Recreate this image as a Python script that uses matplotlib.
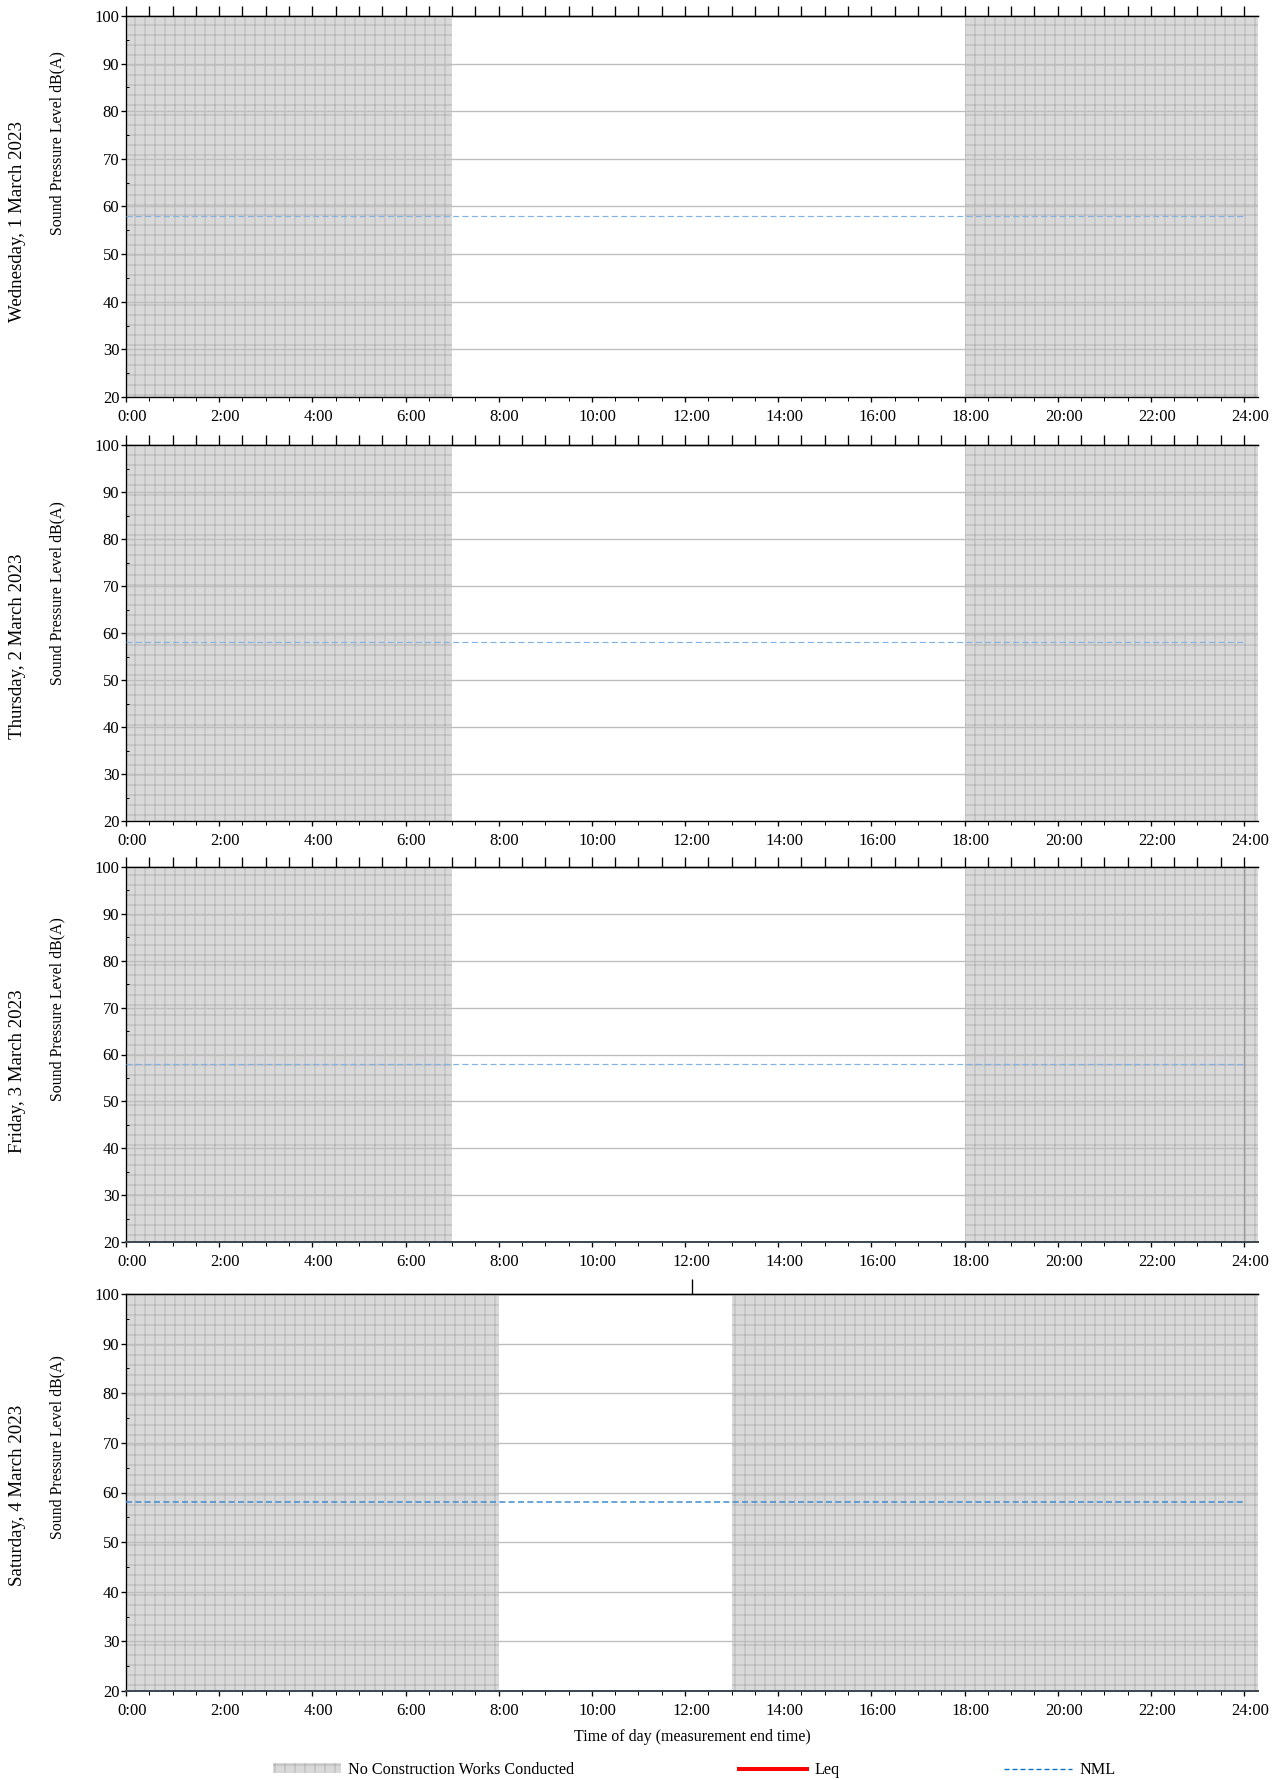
import matplotlib
matplotlib.use("Agg")
import matplotlib.pyplot as plt
from matplotlib.ticker import MultipleLocator, FuncFormatter, FixedLocator
from matplotlib.patches import Patch
from matplotlib.lines import Line2D
from matplotlib.transforms import ScaledTranslation

# ---------------- data ----------------
day_labels = ["Wednesday, 1 March 2023", "Thursday, 2 March 2023",
              "Friday, 3 March 2023", "Saturday, 4 March 2023"]
nml_values = [58, 58, 58, 58]
nml_colors = ["#7fb2e5", "#7fb2e5", "#7fb2e5", "#3a8ad0"]
# periods with no construction works (hours); end "None" = to end of axis
no_works_starts = [[0, 18], [0, 18], [0, 18], [0, 13]]
no_works_ends = [[7, None], [7, None], [7, None], [8, None]]
leq_times = []   # no Leq data shown
leq_values = []
day_end_marker = [None, None, 24, None]
top_tick_hours = [[h * 0.5 for h in range(49)]] * 3 + [[12.15]]

x_min, x_max = 0, 24.3
y_min, y_max = 20, 100

# ---------------- style ----------------
plt.rcParams['font.family'] = ['Liberation Serif', 'DejaVu Serif']
plt.rcParams['hatch.linewidth'] = 0.5
plt.rcParams['lines.scale_dashes'] = False

W, H, DPI = 1282, 1780, 120
fig = plt.figure(figsize=(W / DPI, H / DPI), dpi=DPI)

# axes boxes in pixels (top, bottom)
boxes = [(16, 397), (445, 821), (867, 1242), (1294, 1691)]
left_px, right_px = 126, 1258
ylabel_centers = [143, 593, 1009, 1447]
day_centers = [221, 646, 1071, 1495]

shade_face = "#d9d9d9"
shade_hatch = "#b0b0b0"
label_shift = ScaledTranslation(6 / DPI, 0, fig.dpi_scale_trans)

for i, (top, bot) in enumerate(boxes):
    ax = fig.add_axes([left_px / W, 1 - bot / H, (right_px - left_px) / W, (bot - top) / H])
    ax.set_xlim(x_min, x_max)
    ax.set_ylim(y_min, y_max)

    for s, e in zip(no_works_starts[i], no_works_ends[i]):
        ax.axvspan(s, x_max if e is None else e, facecolor=shade_face,
                   edgecolor=shade_hatch, hatch='++', linewidth=0, zorder=0.5)

    ax.plot([0, 24], [nml_values[i]] * 2, color=nml_colors[i],
            lw=0.9 if i == 3 else 0.7, linestyle=(0, (3.6, 2.0)), zorder=3)
    if leq_times:
        ax.plot(leq_times, leq_values, color="red", lw=2)
    if day_end_marker[i] is not None:
        ax.axvline(day_end_marker[i], color="#9a9a9a", lw=0.8, zorder=2)

    ax.yaxis.set_major_locator(MultipleLocator(10))
    ax.yaxis.set_minor_locator(MultipleLocator(5))
    ax.xaxis.set_major_locator(MultipleLocator(2))
    ax.xaxis.set_minor_locator(FixedLocator([h * 0.5 for h in range(49)]))
    ax.xaxis.set_major_formatter(FuncFormatter(lambda v, p: f"{int(round(v))}:00"))
    ax.grid(axis='y', which='major', color="#bdbdbd", lw=0.8)
    ax.set_axisbelow('line')

    ax.tick_params(axis='y', which='major', direction='out', length=3, width=0.8,
                   labelsize=10, pad=1)
    ax.tick_params(axis='y', which='minor', direction='in', length=2, width=0.6)
    ax.tick_params(axis='x', which='major', direction='out', length=3, width=0.8,
                   labelsize=10, pad=4)
    ax.tick_params(axis='x', which='minor', direction='out', length=2.2, width=0.6)
    for lab in ax.get_xticklabels():
        lab.set_transform(lab.get_transform() + label_shift)

    for sp in ['left', 'top', 'bottom']:
        ax.spines[sp].set_linewidth(0.8)
        ax.spines[sp].set_color("black")
    ax.spines['right'].set_visible(False)
    if i >= 2:
        ax.spines['bottom'].set_color("#404a55")
        ax.spines['bottom'].set_linewidth(1.2)

    sec = ax.secondary_xaxis('top')
    sec.xaxis.set_major_locator(FixedLocator(top_tick_hours[i]))
    sec.tick_params(direction='out', length=9 if i == 3 else 6, width=0.8,
                    labeltop=False)
    sec.spines['top'].set_linewidth(0.8)

    fig.text(57 / W, 1 - ylabel_centers[i] / H, "Sound Pressure Level dB(A)",
             rotation=90, ha='center', va='center', fontsize=9.5)
    fig.text(18 / W, 1 - day_centers[i] / H, day_labels[i],
             rotation=90, ha='center', va='center', fontsize=11.3)

fig.text(692 / W, 1 - 1737 / H, "Time of day (measurement end time)",
         ha='center', va='center', fontsize=9.6)

handles = [Patch(facecolor=shade_face, edgecolor=shade_hatch, hatch='++', linewidth=0),
           Line2D([], [], color="red", lw=2.4),
           Line2D([], [], color="#0070c0", lw=0.8, linestyle=(0, (3.0, 1.8)))]
labels = ["No Construction Works Conducted", "Leq", "NML"]
fig.legend(handles, labels, loc='center', bbox_to_anchor=(694 / W, 1 - 1770 / H),
           ncol=3, frameon=False, fontsize=9.7, handlelength=4.2, handletextpad=0.45,
           columnspacing=10.2, handleheight=0.6)

fig.savefig("out.png", dpi=DPI)
